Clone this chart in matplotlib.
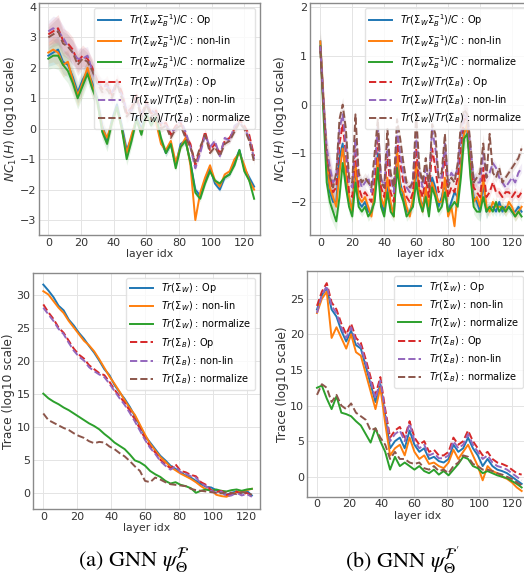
import numpy as np
import matplotlib
matplotlib.use("Agg")
from matplotlib import pyplot as plt

# layer indices used for each panel
layers_a = np.arange(0, 127, 3)      # top-left
layers_b = np.arange(0, 128, 2)      # top-right
layers_c = np.arange(0, 124, 3)      # bottom-left
layers_d = np.arange(0, 127, 3)      # bottom-right

# ---- top-left: NC1 (a) ----
nc_a_op = [2.4, 2.5, 2.6, 2.2, 2.1, 1.7, 1.2, 1.6, 1.9, 1.5, 1.0, 0.1, -0.4, 0.3, 0.8,
           0.1, -0.7, -0.3, 0.4, 0.0, 0.5, 0.2, 0.3, -0.4, -0.8, -0.5, -1.2, -0.5, -0.4,
           -1.1, -2.0, -2.2, -1.7, -1.3, -1.8, -2.0, -1.6, -1.5, -1.1, -0.7, -1.3, -1.6, -1.9]
nc_a_nonlin = [2.5, 2.6, 2.5, 2.1, 2.2, 1.6, 1.1, 1.5, 2.0, 1.4, 0.9, 0.0, -0.3, 0.2, 0.7,
               0.0, -0.8, -0.2, 0.3, -0.1, 0.4, 0.3, 0.2, -0.5, -0.7, -0.4, -1.1, -0.6, -0.3,
               -1.2, -3.0, -2.1, -1.6, -1.2, -1.7, -1.9, -1.5, -1.4, -1.0, -0.8, -1.2, -1.7, -2.0]
nc_a_norm = [2.3, 2.4, 2.4, 2.1, 1.9, 1.5, 1.0, 1.4, 1.8, 1.3, 0.9, -0.1, -0.5, 0.2, 0.7,
             0.0, -1.0, -0.4, 0.3, -0.2, 0.5, 0.1, 0.4, -0.3, -0.8, -0.5, -1.3, -0.6, -0.4,
             -1.1, -2.1, -2.3, -1.8, -1.4, -1.7, -1.8, -1.6, -1.5, -1.2, -0.7, -1.4, -1.7, -2.3]
nc_a_r_op = [3.1, 3.2, 3.3, 2.9, 2.8, 2.6, 2.2, 2.4, 2.3, 2.0, 1.6, 1.3, 1.5, 1.1, 1.6,
             1.2, 0.5, 0.7, 1.1, 0.4, 0.9, 0.5, 0.6, 0.1, 0.2, -0.2, 0.1, 0.2, -0.2,
             -0.5, -1.2, -0.7, -0.1, -0.7, -0.5, -0.8, -0.4, -0.3, 0.0, 0.3, 0.1, -0.2, -0.9]
nc_a_r_nonlin = [3.2, 3.3, 3.2, 3.0, 2.7, 2.5, 2.3, 2.3, 2.4, 1.9, 1.5, 1.4, 1.4, 1.2, 1.5,
                 1.1, 0.6, 0.6, 1.0, 0.5, 0.8, 0.6, 0.5, 0.2, 0.1, -0.1, 0.0, 0.3, -0.1,
                 -0.6, -1.3, -0.8, -0.2, -0.6, -0.4, -0.9, -0.3, -0.4, 0.1, 0.2, 0.0, -0.3, -1.0]
nc_a_r_norm = [3.0, 3.1, 3.2, 2.8, 2.7, 2.5, 2.1, 2.3, 2.2, 1.9, 1.5, 1.2, 1.3, 1.0, 1.5,
               1.0, 0.4, 0.6, 1.0, 0.3, 0.8, 0.4, 0.5, 0.0, 0.1, -0.3, 0.0, 0.1, -0.3,
               -0.6, -1.1, -0.6, -0.2, -0.8, -0.6, -0.9, -0.5, -0.4, -0.1, 0.2, 0.0, -0.4, -1.1]
nc_a_std = [0.35, 0.4, 0.45, 0.4, 0.4, 0.4, 0.35, 0.35, 0.3, 0.3, 0.3, 0.25, 0.25, 0.2, 0.2,
            0.2, 0.2, 0.2, 0.15, 0.15, 0.15, 0.15, 0.15, 0.12, 0.12, 0.1, 0.1, 0.1, 0.1,
            0.1, 0.1, 0.1, 0.1, 0.08, 0.08, 0.08, 0.08, 0.08, 0.08, 0.08, 0.08, 0.08, 0.08]

# ---- top-right: NC1 (b) ----
nc_b_op = [1.3, 0.0, -1.3, -1.8, -2.0, -2.0, -1.1, -0.8,
           -1.5, -2.0, -2.1, -1.3, -2.0, -2.1, -2.0, -2.2,
           -2.2, -1.9, -1.0, -2.0, -2.2, -1.6, -2.1, -2.2,
           -1.0, -1.6, -1.9, -2.2, -2.2, -2.0, -1.3, -1.9,
           -2.1, -1.8, -2.2, -1.5, -1.7, -2.1, -1.9, -1.6,
           -2.2, -2.0, -1.8, -1.9, -1.2, -0.5, -0.5, -1.3,
           -1.9, -2.0, -2.2, -1.6, -2.2, -2.1, -2.1, -2.2,
           -2.0, -2.2, -2.1, -2.1, -2.2, -2.2, -2.1, -2.2]
nc_b_nonlin = [1.3, 0.1, -1.2, -1.7, -1.9, -2.1, -1.4, -0.9,
               -1.4, -1.9, -2.2, -1.2, -1.9, -2.0, -1.9, -2.1,
               -2.3, -1.8, -1.1, -1.9, -2.1, -1.5, -2.0, -2.3,
               -0.9, -1.7, -1.8, -2.1, -2.3, -1.9, -1.2, -1.8,
               -2.2, -1.7, -2.1, -1.6, -1.8, -2.0, -2.0, -1.5,
               -2.3, -2.1, -2.5, -1.8, -1.3, -0.6, -0.4, -1.4,
               -2.0, -1.9, -2.1, -1.5, -2.1, -2.2, -2.0, -2.1,
               -2.1, -2.1, -2.2, -2.0, -2.1, -2.3, -2.2, -2.1]
nc_b_norm = [1.2, -0.2, -1.6, -2.0, -2.2, -2.4, -1.9, -1.2,
             -1.7, -2.1, -2.3, -1.6, -2.1, -2.2, -2.1, -2.3,
             -2.2, -2.0, -1.3, -2.1, -2.3, -1.8, -2.2, -2.3,
             -1.3, -1.8, -2.0, -2.3, -2.2, -2.1, -1.6, -2.0,
             -2.2, -1.9, -2.3, -1.7, -1.9, -2.2, -2.1, -1.8,
             -2.2, -2.1, -2.0, -2.1, -1.5, -0.7, -0.6, -1.5,
             -2.1, -2.2, -2.2, -1.9, -2.2, -2.1, -2.2, -2.0,
             -2.2, -2.1, -2.2, -2.1, -2.2, -2.3, -2.2, -2.3]
nc_b_r_op = [1.2, 0.0, -1.0, -1.4, -1.8, -1.7, -0.8, -0.4,
             -1.0, -1.8, -1.9, -0.9, -1.7, -1.9, -1.8, -1.9,
             -2.0, -1.5, -0.6, -1.7, -1.9, -1.0, -1.8, -2.0,
             -0.7, -1.2, -1.6, -1.9, -2.0, -1.8, -0.9, -1.7,
             -1.9, -1.5, -1.9, -0.9, -1.3, -1.8, -1.7, -1.0,
             -1.9, -1.7, -1.8, -1.5, -0.8, -0.3, -0.3, -1.0,
             -1.7, -1.8, -1.9, -1.3, -1.9, -1.8, -1.6, -1.8,
             -1.8, -1.9, -1.8, -1.8, -1.9, -1.8, -1.9, -1.8]
nc_b_r_nonlin = [1.2, 0.1, -0.9, -1.3, -1.6, -1.5, -0.5, -0.2,
                 -0.8, -1.6, -1.7, -0.7, -1.5, -1.7, -1.6, -1.5,
                 -1.8, -1.3, -0.4, -1.5, -1.7, -0.8, -1.5, -1.8,
                 -0.5, -1.0, -1.4, -1.7, -1.8, -1.5, -0.6, -1.4,
                 -1.7, -1.3, -1.6, -0.5, -0.9, -1.5, -1.5, -0.8,
                 -1.6, -1.4, -1.5, -1.3, -0.6, -0.2, -0.3, -0.9,
                 -1.5, -1.6, -1.6, -1.0, -1.5, -1.4, -1.2, -1.3,
                 -1.5, -1.6, -1.7, -1.6, -1.5, -1.6, -1.4, -1.3]
nc_b_r_norm = [1.1, 0.0, -1.1, -1.5, -1.7, -1.4, -0.3, 0.0,
               -0.5, -1.5, -1.6, -0.2, -1.4, -1.6, -1.5, -1.6,
               -1.7, -1.0, -0.3, -1.6, -1.7, -0.5, -1.4, -1.7,
               -0.3, -0.7, -1.2, -1.6, -1.7, -1.6, -0.2, -1.3,
               -1.6, -1.1, -1.7, -0.4, -0.6, -1.5, -1.4, -0.6,
               -1.7, -1.5, -1.6, -1.2, -0.4, -0.1, -0.2, -0.8,
               -1.6, -1.5, -1.4, -0.8, -1.5, -0.6, -1.4, -1.5,
               -1.3, -1.6, -1.5, -1.4, -1.3, -1.2, -1.1, -0.9]
nc_b_std = [0.25, 0.3, 0.3, 0.3, 0.25, 0.2, 0.15, 0.15,
            0.15, 0.15, 0.12, 0.12, 0.1, 0.1, 0.1, 0.1,
            0.1, 0.1, 0.1, 0.1, 0.1, 0.1, 0.1, 0.1,
            0.1, 0.1, 0.1, 0.1, 0.1, 0.1, 0.1, 0.1,
            0.1, 0.1, 0.1, 0.1, 0.1, 0.1, 0.1, 0.1,
            0.1, 0.1, 0.1, 0.1, 0.15, 0.25, 0.25, 0.15,
            0.15, 0.15, 0.2, 0.2, 0.15, 0.1, 0.1, 0.1,
            0.1, 0.1, 0.1, 0.1, 0.1, 0.1, 0.1, 0.1]

# ---- bottom-left: traces (a) ----
tr_a_w_op = [31.5, 30.6, 29.6, 28.3, 27.6, 26.2, 25.3, 24.2, 23.3, 22.2, 21.2, 20.0, 18.7, 17.8,
             16.3, 15.2, 14.2, 13.0, 11.6, 10.1, 8.6, 7.6, 6.6, 5.6, 4.9, 4.1, 3.6, 3.1,
             2.6, 2.3, 1.8, 1.3, 0.9, 0.8, 0.4, 0.0, -0.3, 0.0, 0.2, 0.0, 0.3, -0.4]
tr_a_w_nonlin = [30.5, 30.0, 29.0, 28.0, 27.2, 26.0, 25.0, 24.0, 23.0, 22.3, 21.4, 20.2, 18.9, 17.6,
                 16.5, 15.3, 14.0, 12.8, 11.8, 10.3, 8.8, 7.4, 6.4, 5.4, 4.7, 3.9, 3.4, 2.9,
                 2.5, 2.1, 1.6, 1.0, 0.5, 0.4, -0.3, -0.5, -0.6, -0.3, 0.1, 0.2, 0.4, 0.6]
tr_a_w_norm = [15.0, 14.3, 13.8, 13.4, 12.9, 12.5, 12.0, 11.5, 11.0, 10.5, 10.1, 9.6, 8.9, 8.3,
               7.6, 7.1, 6.6, 5.8, 4.9, 4.6, 4.1, 3.3, 2.8, 2.4, 1.8, 1.4, 1.6, 1.2,
               1.0, 0.7, 0.0, 0.3, 0.5, 0.3, 0.5, 0.3, 0.2, 0.4, 0.5, 0.3, 0.5, 0.6]
tr_a_b_op = [28.5, 27.3, 26.3, 25.0, 24.2, 23.0, 21.8, 20.9, 20.3, 19.3, 18.7, 18.1, 17.8, 16.8,
             15.6, 14.6, 13.6, 12.4, 11.1, 9.7, 8.2, 7.0, 6.1, 5.0, 4.3, 3.7, 4.3, 3.3,
             3.1, 2.7, 2.5, 1.6, 1.2, 0.4, 0.1, 0.3, -0.3, -0.2, 0.2, -0.3, 0.0, -0.5]
tr_a_b_nonlin = [28.0, 27.0, 26.0, 24.8, 24.0, 22.7, 21.5, 20.6, 20.0, 19.0, 18.4, 17.9, 17.5, 16.5,
                 15.4, 14.3, 13.3, 12.1, 10.8, 9.4, 8.0, 6.8, 5.9, 4.8, 4.1, 3.5, 4.0, 3.1,
                 2.9, 2.5, 2.3, 1.4, 1.0, 0.3, 0.0, 0.2, -0.5, -0.4, 0.0, -0.4, -0.2, -0.6]
tr_a_b_norm = [12.0, 11.0, 10.6, 10.2, 9.8, 9.5, 9.0, 8.6, 8.3, 7.8, 7.5, 7.7, 7.6, 7.0,
               6.6, 6.0, 5.5, 4.8, 4.0, 3.3, 1.8, 1.6, 2.3, 2.0, 1.6, 1.3, 1.2, 1.1,
               1.0, 0.6, 0.4, 0.3, 0.2, 0.1, 0.0, -0.1, 0.1, 0.0, -0.2, 0.1, 0.0, -0.3]

# ---- bottom-right: traces (b) ----
tr_b_w_op = [23.5, 25.5, 26.5, 23.5, 22.5, 20.5, 19.0, 20.5, 18.5, 18.0, 15.5, 13.0, 10.5, 13.0,
             8.5, 4.0, 5.0, 5.5, 4.0, 6.5, 4.5, 3.5, 4.0, 2.5, 2.8, 2.2, 2.0, 2.5,
             4.5, 3.5, 4.0, 5.5, 4.0, 3.0, 1.5, 2.5, 1.5, 1.0, 0.8, 0.5, 0.0, -0.5, -1.0]
tr_b_w_nonlin = [23.0, 25.0, 26.0, 19.5, 21.0, 19.5, 18.0, 20.0, 17.5, 17.0, 14.5, 12.0, 9.5, 12.5,
                 7.5, 3.0, 4.0, 4.5, 3.0, 5.5, 3.5, 2.5, 3.0, 1.8, 2.0, 1.5, 1.2, 2.0,
                 3.8, 2.5, 3.5, 4.5, 3.0, 1.5, -0.5, 1.5, 0.8, 0.5, 0.0, -0.3, -0.8, -1.5, -2.0]
tr_b_w_norm = [12.5, 12.8, 11.0, 9.5, 11.3, 9.0, 8.8, 8.5, 7.8, 7.2, 6.0, 4.8, 6.8, 5.0,
               3.5, 1.0, 2.8, 1.5, 2.0, 1.5, 1.0, 1.5, 0.8, 0.5, 1.0, 0.3, 0.8, 0.2,
               1.0, 1.8, 2.8, 2.5, 1.5, 1.2, 0.5, 0.8, 0.5, 0.2, 0.0, -0.2, -0.6, -1.0, -1.5]
tr_b_b_op = [24.0, 26.0, 27.2, 24.5, 23.5, 21.5, 20.0, 21.5, 19.5, 18.8, 16.5, 14.0, 11.5, 14.0,
             9.5, 5.5, 6.5, 7.0, 5.5, 7.8, 5.5, 4.5, 5.0, 3.5, 3.8, 3.0, 3.0, 3.5,
             5.5, 4.5, 5.0, 6.5, 5.0, 4.0, 3.0, 3.5, 2.5, 2.0, 1.8, 1.5, 1.0, 0.5, 0.3]
tr_b_b_nonlin = [23.0, 25.5, 26.8, 24.0, 23.0, 21.0, 19.5, 21.0, 19.0, 18.3, 16.0, 13.5, 11.0, 13.5,
                 9.0, 5.0, 6.0, 6.5, 5.0, 7.5, 5.0, 4.0, 4.5, 3.0, 3.3, 2.6, 2.6, 3.0,
                 5.0, 4.0, 4.5, 6.0, 4.5, 3.5, 2.5, 3.0, 2.0, 1.5, 1.3, 1.0, 0.5, 0.0, -0.5]
tr_b_b_norm = [11.5, 13.0, 12.5, 10.5, 11.5, 10.0, 9.5, 10.3, 9.0, 8.5, 8.0, 6.5, 6.8, 5.5,
               4.5, 2.5, 3.5, 2.5, 2.5, 2.0, 1.8, 2.0, 1.2, 1.0, 1.5, 0.8, 1.0, 0.5,
               1.5, 2.0, 3.0, 2.8, 1.8, 1.5, 1.0, 1.0, 0.8, 0.5, 0.3, 0.0, -0.3, -0.8, -1.2]

variants = ["Op", "non-lin", "normalize"]
colors = ["#1f77b4", "#ff7f0e", "#2ca02c", "#d62728", "#9467bd", "#8c564b"]

nc_solid = r"$Tr(\Sigma_W\Sigma_B^{-1})/C$ : "
nc_dash = r"$Tr(\Sigma_W)/Tr(\Sigma_B)$ : "
tr_solid = r"$Tr(\Sigma_W)$ : "
tr_dash = r"$Tr(\Sigma_B)$ : "

W, H = 524, 588
fig = plt.figure(figsize=(W / 100, H / 100), dpi=100)


def px_axes(x0, y0, x1, y1):
    return fig.add_axes([x0 / W, 1 - y1 / H, (x1 - x0) / W, (y1 - y0) / H])


def draw(ax, x, series, std, solid_lbl, dash_lbl, ylabel, xlim, ylim, yticks):
    labels = [solid_lbl + v for v in variants] + [dash_lbl + v for v in variants]
    for i, (ys, lbl) in enumerate(zip(series, labels)):
        ys = np.asarray(ys)
        ls = "-" if i < 3 else "--"
        ax.plot(x, ys, ls, color=colors[i], lw=1.4, label=lbl)
        if std is not None:
            s = np.asarray(std)
            ax.fill_between(x, ys - s, ys + s, color=colors[i], alpha=0.12, lw=0)
    ax.set_xlim(*xlim)
    ax.set_ylim(*ylim)
    ax.set_xticks([0, 20, 40, 60, 80, 100, 120])
    ax.set_yticks(yticks)
    ax.grid(True, color="#e4e4e4", lw=0.7)
    ax.set_axisbelow(True)
    for sp in ax.spines.values():
        sp.set_color("#8a8a8a")
        sp.set_linewidth(1.0)
    ax.tick_params(length=0, labelsize=8, pad=2, colors="#333333")
    ax.set_xlabel("layer idx", fontsize=7.8, labelpad=1, color="#333333")
    ax.set_ylabel(ylabel, fontsize=8.8, labelpad=1, color="#333333")
    ax.legend(loc="upper right", fontsize=7, framealpha=0.8, edgecolor="#dddddd",
              handlelength=2.4, labelspacing=0.45, borderpad=0.4, fancybox=True)


ax1 = px_axes(39.3, 3, 260, 235)
draw(ax1, layers_a, [nc_a_op, nc_a_nonlin, nc_a_norm, nc_a_r_op, nc_a_r_nonlin, nc_a_r_norm],
     nc_a_std, nc_solid, nc_dash, r"$NC_1(H)$ (log10 scale)",
     (-5.5, 129.6), (-3.49, 4.13), [-3, -2, -1, 0, 1, 2, 3, 4])

ax2 = px_axes(310, 3, 530.7, 235)
draw(ax2, layers_b, [nc_b_op, nc_b_nonlin, nc_b_norm, nc_b_r_op, nc_b_r_nonlin, nc_b_r_norm],
     nc_b_std, nc_solid, nc_dash, r"$NC_1(H)$ (log10 scale)",
     (-6.45, 131.7), (-2.68, 2.09), [-2, -1, 0, 1, 2])

ax3 = px_axes(33.3, 272.7, 260, 509.3)
draw(ax3, layers_c, [tr_a_w_op, tr_a_w_nonlin, tr_a_w_norm, tr_a_b_op, tr_a_b_nonlin, tr_a_b_norm],
     None, tr_solid, tr_dash, "Trace (log10 scale)",
     (-5.9, 127.8), (-2.5, 33.3), [0, 5, 10, 15, 20, 25, 30])

ax4 = px_axes(307, 271, 528, 496.7)
draw(ax4, layers_d, [tr_b_w_op, tr_b_w_nonlin, tr_b_w_norm, tr_b_b_op, tr_b_b_nonlin, tr_b_b_norm],
     None, tr_solid, tr_dash, "Trace (log10 scale)",
     (-6.15, 129.9), (-2.8, 28.9), [0, 5, 10, 15, 20, 25])

fig.text(134 / W, 1 - 561 / H, r"(a) GNN $\psi_{\Theta}^{\mathcal{F}}$", ha="center", va="center",
         fontsize=16, family="STIXGeneral", math_fontfamily="stix")
fig.text(402 / W, 1 - 561 / H, r"(b) GNN $\psi_{\Theta}^{\mathcal{F}'}$", ha="center", va="center",
         fontsize=16, family="STIXGeneral", math_fontfamily="stix")

fig.savefig("out.png", dpi=100)
